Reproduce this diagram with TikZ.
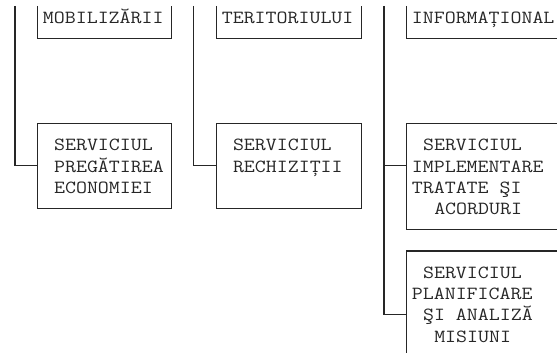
\documentclass[tikz,border=0pt]{standalone}
\usepackage{fontspec}
\setmonofont{Latin Modern Mono}[FakeStretch=1.151]
\begin{document}
\begin{tikzpicture}[x=1pt,y=-1pt,
  ln/.style={draw=black!85,line width=1.2pt},
  txt/.style={anchor=base west,inner sep=0pt,outer sep=0pt,text=black!85,
    font=\ttfamily\fontsize{18.5}{21.27}\selectfont},
  boxshape/.style={ln,rectangle,inner sep=0pt,outer sep=0pt,anchor=north west}]
\useasboundingbox (0,0) rectangle (557,353);
% grid helpers
\def\cw{11.18}
\def\Lx#1{{9.41+(#1-1)*\cw}}
\def\Cx#1{{15+(#1-1)*\cw}}
\def\Ry#1{{17+#1*21.27}}
\def\By#1{{23.2+#1*21.27}}
% named coordinates
\coordinate (t1top) at (\Cx{1},6);
\coordinate (t2top) at (\Cx{17},6);
\coordinate (t3top) at (\Cx{34},6);
\coordinate (t1j) at (\Cx{1},\Ry{7});
\coordinate (t2j) at (\Cx{17},\Ry{7});
\coordinate (t3j) at (\Cx{34},\Ry{7});
\coordinate (t3end) at (\Cx{34},\Ry{14});
% top (open) boxes
\coordinate (aTL) at (\Cx{3},6);  \coordinate (aBL) at (\Cx{3},\Ry{1});
\coordinate (aTR) at (\Cx{15},6); \coordinate (aBR) at (\Cx{15},\Ry{1});
\coordinate (bTL) at (\Cx{19},6); \coordinate (bBL) at (\Cx{19},\Ry{1});
\coordinate (bTR) at (\Cx{32},6); \coordinate (bBR) at (\Cx{32},\Ry{1});
\coordinate (cTL) at (\Cx{36},6); \coordinate (cBL) at (\Cx{36},\Ry{1});
\coordinate (cBR) at (560,\Ry{1});
\draw[ln] (aTL) -- (aBL) -- (aBR) -- (aTR);
\draw[ln] (bTL) -- (bBL) -- (bBR) -- (bTR);
\draw[ln] (cTL) -- (cBL) -- (cBR);
% lower boxes
\node[boxshape,minimum width={12*\cw},minimum height={4*21.27}] (boxA) at (\Cx{3},\Ry{5}) {};
\node[boxshape,minimum width={13*\cw},minimum height={4*21.27}] (boxB) at (\Cx{19},\Ry{5}) {};
\coordinate (boxCtl) at (\Cx{36},\Ry{5});
\coordinate (boxCtr) at (560,\Ry{5});
\coordinate (boxCbl) at (\Cx{36},\Ry{10});
\coordinate (boxCbr) at (560,\Ry{10});
\draw[ln] (boxCtr) -- (boxCtl) -- (boxCbl) -- (boxCbr);
\coordinate (boxDtl) at (\Cx{36},\Ry{11});
\coordinate (boxDtr) at (560,\Ry{11});
\coordinate (boxDbl) at (\Cx{36},356);
\draw[ln] (boxDtr) -- (boxDtl) -- (boxDbl);
% trunks and branches
\draw[ln] (t1top) -- (t1j) -- (boxA.west);
\draw[ln] (t2top) -- (t2j) -- (boxB.west);
\draw[ln] (t3top) -- (t3end) -- (boxDtl |- t3end);
\draw[ln] (t3j) -- (boxCtl |- t3j);
% texts
\node[txt] (tA0) at (\Lx{4},\By{0}) {MOBILIZĂRII};
\node[txt] (tB0) at (\Lx{20},\By{0}) {TERITORIULUI};
\node[txt] (tC0) at (\Lx{37},\By{0}) {INFORMAȚIONAL};
\node[txt] (tA1) at (\Lx{5},\By{6}) {SERVICIUL};
\node[txt] (tA2) at (\Lx{5},\By{7}) {PREGĂTIREA};
\node[txt] (tA3) at (\Lx{5},\By{8}) {ECONOMIEI};
\node[txt] (tB1) at (\Lx{21},\By{6}) {SERVICIUL};
\node[txt] (tB2) at (\Lx{21},\By{7}) {RECHIZIȚII};
\node[txt] (tC1) at (\Lx{38},\By{6}) {SERVICIUL};
\node[txt] (tC2) at (\Lx{37},\By{7}) {IMPLEMENTARE};
\node[txt] (tC3) at (\Lx{37},\By{8}) {TRATATE ŞI};
\node[txt] (tC4) at (\Lx{39},\By{9}) {ACORDURI};
\node[txt] (tD1) at (\Lx{38},\By{12}) {SERVICIUL};
\node[txt] (tD2) at (\Lx{37},\By{13}) {PLANIFICARE};
\node[txt] (tD3) at (\Lx{38},\By{14}) {ŞI ANALIZĂ};
\node[txt] (tD4) at (\Lx{39},\By{15}) {MISIUNI};
\end{tikzpicture}
\end{document}
